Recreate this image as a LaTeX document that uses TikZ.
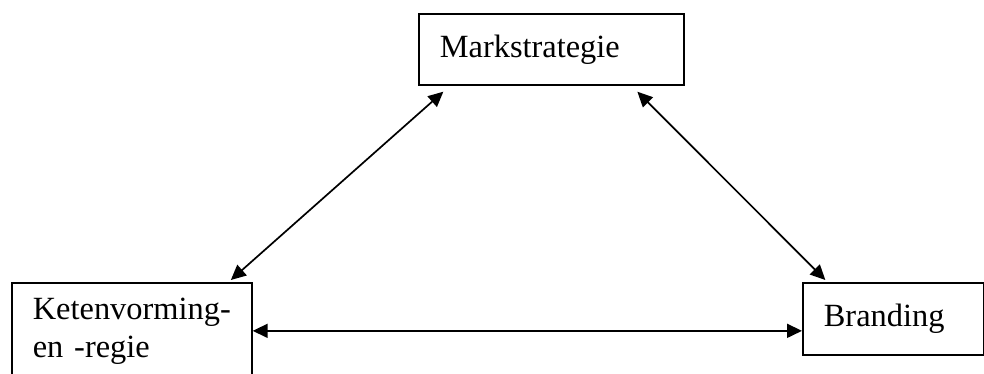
\documentclass[tikz,border=0pt]{standalone}
\usepackage{fontspec}
\setmainfont{Liberation Serif}
\usetikzlibrary{arrows.meta,positioning,calc}

\begin{document}
\begin{tikzpicture}[x=0.5pt, y=-0.5pt,
  blok/.style={draw=black, line width=0.85pt, anchor=north west, align=left,
    inner xsep=10.5pt, inner ysep=0pt, font=\fontsize{16.2}{19}\selectfont},
  pijl/.style={{Triangle[length=7.5pt,width=7pt]}-{Triangle[length=7.5pt,width=7pt]}, line width=0.85pt}]
  \useasboundingbox (0,0) rectangle (984,374);
  \clip (0,0) rectangle (984,374);

  %--- Boxes ---
  \node[blok, minimum width=132.5pt, minimum height=35.5pt, text width=111.5pt] (mark) at (418,13) {Markstrategie};
  \node[blok, minimum width=120pt, minimum height=48pt, text width=99pt] (keten) at (11,282) {Ketenvorming-\\en -regie};
  \node[blok, minimum width=90.5pt, minimum height=36pt, text width=69.5pt] (brand) at (802,282) {Branding};

  % Arrows between the boxes
  \draw[pijl] ([xshift=49.5pt,yshift=1pt]keten.north) -- ([xshift=-54pt,yshift=-3pt]mark.south);
  \draw[pijl] ([xshift=43pt,yshift=-3pt]mark.south) -- ([xshift=-34pt,yshift=1pt]brand.north);
  \draw[pijl] (keten.east) -- (keten.east -| brand.west);
\end{tikzpicture}
\end{document}
